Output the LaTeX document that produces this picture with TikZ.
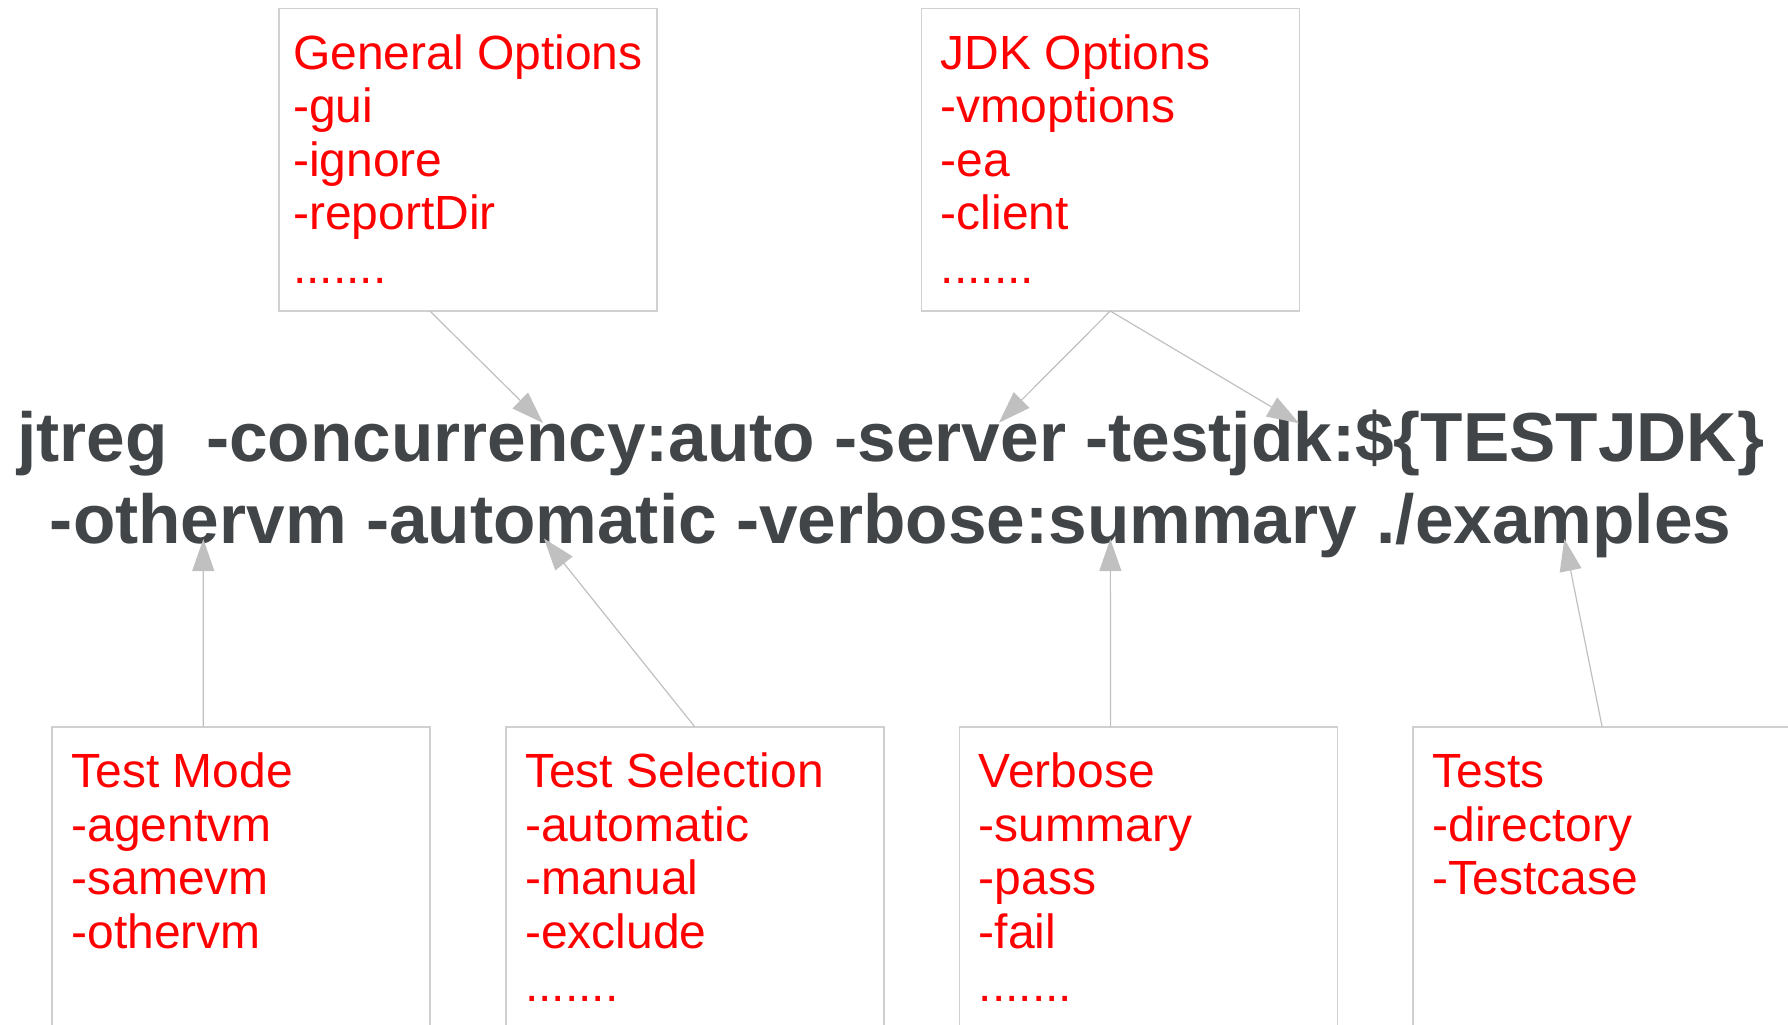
\documentclass[tikz,border=0pt]{standalone}
\usepackage{fontspec}
\setmainfont{Liberation Sans}
\usetikzlibrary{calc}
\usetikzlibrary{positioning}
\usetikzlibrary{arrows.meta}

\definecolor{optred}{RGB}{255,0,0}
\definecolor{cmdgray}{RGB}{66,69,72}
\definecolor{linegray}{RGB}{192,192,192}
\definecolor{framegray}{RGB}{208,208,208}

\tikzset{
    optbox/.style={draw=framegray,line width=0.8pt,outer sep=0pt,inner sep=0pt,
        minimum width=189pt,minimum height=151.35pt,anchor=north west},
    opttext/.style={text=optred,inner sep=0pt,align=left,anchor=north west,
        font=\fontsize{24}{26.75}\selectfont},
    cmdtext/.style={text=cmdgray,inner sep=0pt,align=center,anchor=north,
        font=\bfseries\fontsize{34.7}{41}\selectfont},
    pointer/.style={draw=linegray,line width=0.6pt,-{Triangle[length=16pt,width=11pt]}}
}

\begin{document}
\begin{tikzpicture}[x=0.5pt,y=-0.5pt]
                \useasboundingbox (0,0) rectangle (1788,1024);

                \node[optbox] (gen) at (278.7,8.3) {};
                \node[optbox,right=132.3pt of gen] (jdk) {};
                \node[optbox] (mode) at (52,726.7) {};
                \node[optbox,right=37.85pt of mode] (sel) {};
                \node[optbox,right=37.85pt of sel] (verb) {};
                \node[optbox,right=37.85pt of verb] (tests) {};

                \node[opttext] (gen-t) at ([xshift=7pt]gen.north west)
                    {\rule{0pt}{30.25pt}General Options\\-gui\\-ignore\\-reportDir\\.......};
                \node[opttext] (jdk-t) at ([xshift=9.5pt]jdk.north west)
                    {\rule{0pt}{30.25pt}JDK Options\\-vmoptions\\-ea\\-client\\.......};
                \node[opttext] (mode-t) at ([xshift=9.5pt]mode.north west)
                    {\rule{0pt}{30.25pt}Test Mode\\-agentvm\\-samevm\\-othervm};
                \node[opttext] (sel-t) at ([xshift=9.5pt]sel.north west)
                    {\rule{0pt}{30.25pt}Test Selection\\-automatic\\-manual\\-exclude\\.......};
                \node[opttext] (verb-t) at ([xshift=9.5pt]verb.north west)
                    {\rule{0pt}{30.25pt}Verbose\\-summary\\-pass\\-fail\\.......};
                \node[opttext] (tests-t) at ([xshift=9.5pt]tests.north west)
                    {\rule{0pt}{30.25pt}Tests\\-directory\\-Testcase};

                \node[cmdtext] (cmd) at (890.7,400.7)
                    {\rule{0pt}{30pt}jtreg\ \ -concurrency:auto -server -testjdk:\$\{TESTJDK\}\\
                     -othervm -automatic -verbose:summary ./examples};

                \coordinate (concur) at (543,423);
                \coordinate (server) at (999,422.7);
                \coordinate (testjdk) at (1299,423.3);
                \coordinate (othervm) at (203.3,539);
                \coordinate (automatic) at (544,538.5);
                \coordinate (summary) at (1110.3,539);
                \coordinate (examples) at (1564.3,539);

                \draw[pointer] ($(gen.south west)!0.4!(gen.south east)$) -- (concur);
                \draw[pointer] (jdk.south) -- (server);
                \draw[pointer] (jdk.south) -- (testjdk);
                \draw[pointer] ($(mode.north west)!0.4!(mode.north east)$) -- (othervm);
                \draw[pointer] (sel.north) -- (automatic);
                \draw[pointer] ($(verb.north west)!0.4!(verb.north east)$) -- (summary);
                \draw[pointer] (tests.north) -- (examples);
            \end{tikzpicture}
\end{document}
